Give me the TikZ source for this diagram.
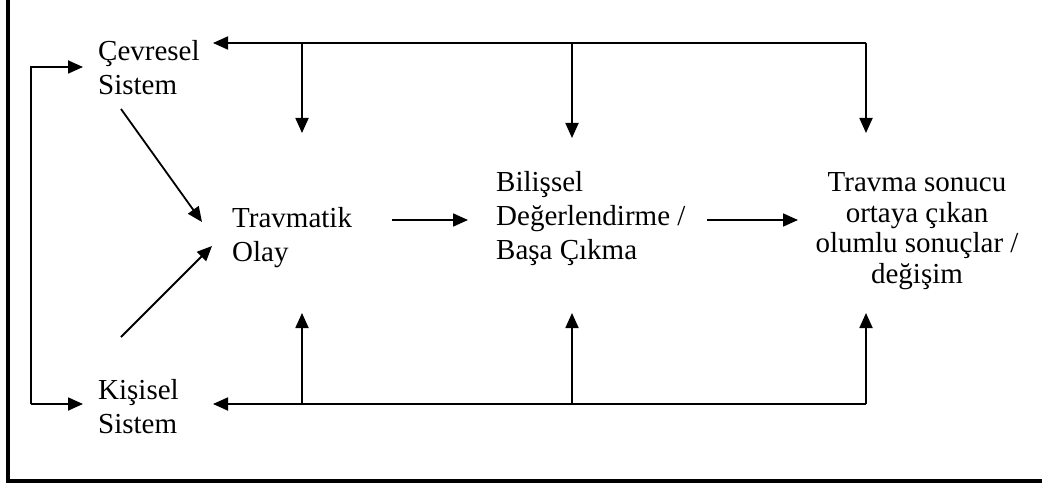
\documentclass[tikz,border=0pt]{standalone}
\usepackage{fontspec}
\setmainfont{Liberation Serif}
\usetikzlibrary{arrows.meta}
\begin{document}
\begin{tikzpicture}[x=1pt,y=-1pt,
  txt/.style={inner sep=0pt, anchor=base west, align=left,
              font=\fontsize{29}{34}\selectfont},
  wire/.style={line width=1.8pt},
  link/.style={wire, -{Triangle[length=15pt,width=13pt]}},
  frame/.style={line width=3.2pt}]
\useasboundingbox (0,0) rectangle (1042,484);

% open frame: left and bottom edges only
\draw[frame] (8,-5) -- (8,481) -- (1050,481);

% text blocks (base anchor sits on the last line)
\node[txt] (cev) at (98,95) {Çevresel\\Sistem};
\node[txt] (kis) at (98,433) {Kişisel\\Sistem};
\node[txt] (trav) at (232,261) {Travmatik\\Olay};
\node[txt] (bil) at (496,259) {Bilişsel\\Değerlendirme /\\Başa Çıkma};
\node[txt, anchor=base, align=center, font=\fontsize{29}{30.5}\selectfont]
  (son) at (917,283) {Travma sonucu\\ortaya çıkan\\olumlu sonuçlar /\\değişim};

% connector end points
\coordinate (cevIn) at (213,43);
\coordinate (topA) at (302,43);
\coordinate (topB) at (572,43);
\coordinate (topC) at (866,43);
\coordinate (travTop) at (302,133);
\coordinate (bilTop) at (572,138);
\coordinate (sonTop) at (866,133);

\coordinate (kisIn) at (213,404);
\coordinate (botA) at (302,404);
\coordinate (botB) at (572,404);
\coordinate (botC) at (866,404);
\coordinate (travBot) at (302,313);
\coordinate (bilBot) at (572,313);
\coordinate (sonBot) at (866,313);

\coordinate (loopT) at (31,67);
\coordinate (loopB) at (31,404);
\coordinate (cevLeft) at (83,67);
\coordinate (kisLeft) at (83,404);

\coordinate (cevOut) at (121,109);
\coordinate (travInA) at (202,222);
\coordinate (kisOut) at (121,337);
\coordinate (travInB) at (212,246);

\coordinate (travOut) at (392,220);
\coordinate (bilIn) at (468,220);
\coordinate (bilOut) at (707,220);
\coordinate (sonIn) at (798,220);

% upper feedback bus
\draw[link] (topC) -- (cevIn);
\draw[link] (topA) -- (travTop);
\draw[link] (topB) -- (bilTop);
\draw[link] (topC) -- (sonTop);

% lower feedback bus
\draw[link] (botC) -- (kisIn);
\draw[link] (botA) -- (travBot);
\draw[link] (botB) -- (bilBot);
\draw[link] (botC) -- (sonBot);

% left loop between the two systems
\draw[link] (loopB) -- (loopT) -- (cevLeft);
\draw[link] (loopB) -- (kisLeft);

% systems into the event
\draw[link] (cevOut) -- (travInA);
\draw[link] (kisOut) -- (travInB);

% main sequence
\draw[link] (travOut) -- (bilIn);
\draw[link] (bilOut) -- (sonIn);
\end{tikzpicture}
\end{document}
